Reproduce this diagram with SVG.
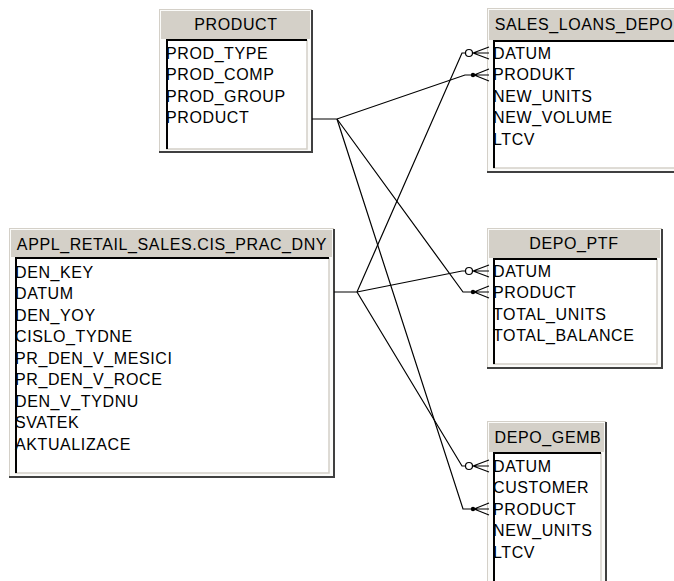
<svg xmlns="http://www.w3.org/2000/svg" width="674" height="581" viewBox="0 0 674 581">
<style>
  text { font-family: "Liberation Sans", Arial, sans-serif; font-size: 16px; letter-spacing: 0.6px; fill: #000; }
  .title { text-anchor: middle; }
  .frame { fill: #fbfbf9; stroke: #d4d0c8; stroke-width: 1; }
  .dark { fill: none; stroke: #404040; stroke-width: 2; }
  .hdr { fill: #d4d0c8; }
  .body { fill: #fff; }
  .sunk { fill: none; stroke: #000; stroke-width: 2; }
  .lite { fill: none; stroke: #d4d0c8; stroke-width: 1.5; }
  .conn path, .conn line { fill: none; stroke: #000; stroke-width: 1.2; }
  .conn circle.o { fill: #fff; stroke: #000; stroke-width: 1.2; }
  .conn circle.f { fill: #000; stroke: none; }
</style>
<rect width="674" height="581" fill="#fff"/>

<g id="product">
  <rect class="frame" x="159.5" y="9.5" width="152" height="142"/>
  <path class="dark" d="M312 10 V152 H159"/>
  <rect class="hdr" x="161" y="11" width="149" height="28"/>
  <rect class="body" x="166" y="39" width="141" height="110"/>
  <path class="lite" d="M307 40 V149 H166"/>
  <path class="sunk" d="M167 149 V40 H307"/>
  <text class="title" x="236" y="29.5">PRODUCT</text>
  <text x="166" y="58.5">PROD_TYPE</text>
  <text x="166" y="80">PROD_COMP</text>
  <text x="166" y="101.5">PROD_GROUP</text>
  <text x="166" y="123">PRODUCT</text>
</g>

<g id="sales_loans_depo">
  <rect class="frame" x="487.5" y="8.5" width="200" height="163"/>
  <path class="dark" d="M487 172 H690"/>
  <rect class="hdr" x="489" y="10" width="200" height="30"/>
  <rect class="body" x="493" y="40" width="200" height="128"/>
  <path class="lite" d="M493 168 H690"/>
  <path class="sunk" d="M494 168 V41 H690"/>
  <text class="title" x="584" y="29.5">SALES_LOANS_DEPO</text>
  <text x="493" y="58.5">DATUM</text>
  <text x="493" y="80">PRODUKT</text>
  <text x="493" y="101.5">NEW_UNITS</text>
  <text x="493" y="123">NEW_VOLUME</text>
  <text x="493" y="144.5">LTCV</text>
</g>

<g id="appl_retail_sales">
  <rect class="frame" x="9.5" y="228.5" width="324" height="248"/>
  <path class="dark" d="M334 229 V477 H9"/>
  <rect class="hdr" x="11" y="230" width="321" height="27"/>
  <rect class="body" x="15" y="257" width="314" height="216"/>
  <path class="lite" d="M329 258 V473 H15"/>
  <path class="sunk" d="M16 473 V258 H329"/>
  <text class="title" x="172" y="249.5">APPL_RETAIL_SALES.CIS_PRAC_DNY</text>
  <text x="15" y="277.5">DEN_KEY</text>
  <text x="15" y="299">DATUM</text>
  <text x="15" y="320.5">DEN_YOY</text>
  <text x="15" y="342">CISLO_TYDNE</text>
  <text x="15" y="363.5">PR_DEN_V_MESICI</text>
  <text x="15" y="385">PR_DEN_V_ROCE</text>
  <text x="15" y="406.5">DEN_V_TYDNU</text>
  <text x="15" y="428">SVATEK</text>
  <text x="15" y="449.5">AKTUALIZACE</text>
</g>

<g id="depo_ptf">
  <rect class="frame" x="487.5" y="228.5" width="174" height="139"/>
  <path class="dark" d="M662 229 V368 H487"/>
  <rect class="hdr" x="489" y="230" width="171" height="28"/>
  <rect class="body" x="493" y="258" width="164" height="106"/>
  <path class="lite" d="M657 259 V364 H493"/>
  <path class="sunk" d="M494 364 V259 H657"/>
  <text class="title" x="574" y="248.5">DEPO_PTF</text>
  <text x="493" y="276.5">DATUM</text>
  <text x="493" y="298">PRODUCT</text>
  <text x="493" y="319.5">TOTAL_UNITS</text>
  <text x="493" y="341">TOTAL_BALANCE</text>
</g>

<g id="depo_gemb">
  <rect class="frame" x="487.5" y="421.5" width="118" height="170"/>
  <path class="dark" d="M606 422 V590"/>
  <rect class="hdr" x="489" y="423" width="115" height="29"/>
  <rect class="body" x="493" y="452" width="108" height="140"/>
  <path class="lite" d="M601 453 V590"/>
  <path class="sunk" d="M494 590 V453 H601"/>
  <text class="title" x="548" y="443">DEPO_GEMB</text>
  <text x="493" y="471.5">DATUM</text>
  <text x="493" y="493">CUSTOMER</text>
  <text x="493" y="514.5">PRODUCT</text>
  <text x="493" y="536">NEW_UNITS</text>
  <text x="493" y="557.5">LTCV</text>
</g>

<g id="connectors" class="conn">
  <!-- PRODUCT.PRODUCT -> SALES_LOANS_DEPO.PRODUKT -->
  <path d="M312 119 H337 L465 75 H474"/>
  <circle class="f" cx="473" cy="75" r="2.2"/>
  <path d="M474 75 L489 69 M474 75 H489 M474 75 L489 81"/>
  <!-- PRODUCT.PRODUCT -> DEPO_PTF.PRODUCT -->
  <path d="M337 119 L463 292 H474"/>
  <circle class="f" cx="473" cy="292" r="2.2"/>
  <path d="M474 292 L489 286 M474 292 H489 M474 292 L489 298"/>
  <!-- PRODUCT.PRODUCT -> DEPO_GEMB.PRODUCT -->
  <path d="M337 119 L463 509 H474"/>
  <circle class="f" cx="473" cy="509" r="2.2"/>
  <path d="M474 509 L489 503 M474 509 H489 M474 509 L489 515"/>
  <!-- APPL.DATUM -> SALES_LOANS_DEPO.DATUM -->
  <path d="M334 292 H357 L462 53 H465"/>
  <circle class="o" cx="469" cy="53" r="3.5"/>
  <path d="M473 53 L489 47 M473 53 H489 M473 53 L489 59"/>
  <!-- APPL.DATUM -> DEPO_PTF.DATUM -->
  <path d="M357 292 L462 271 H465"/>
  <circle class="o" cx="469" cy="271" r="3.5"/>
  <path d="M473 271 L489 265 M473 271 H489 M473 271 L489 277"/>
  <!-- APPL.DATUM -> DEPO_GEMB.DATUM -->
  <path d="M357 292 L462 466 H465"/>
  <circle class="o" cx="469" cy="466" r="3.5"/>
  <path d="M473 466 L489 460 M473 466 H489 M473 466 L489 472"/>
</g>
</svg>
